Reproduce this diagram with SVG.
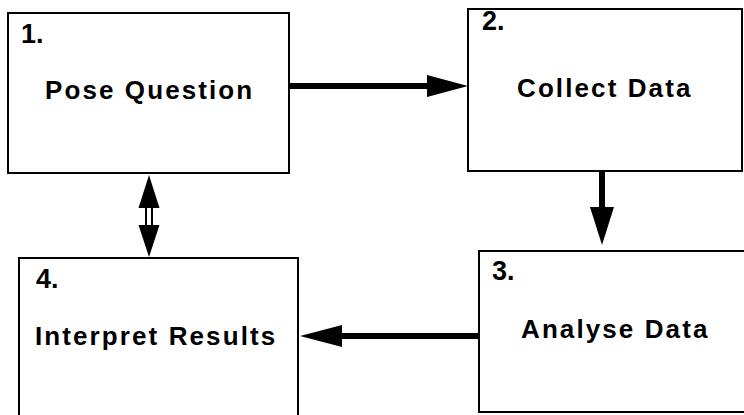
<svg xmlns="http://www.w3.org/2000/svg" width="744" height="415" viewBox="0 0 744 415">
<style>
.box{fill:#fff;stroke:#000;stroke-width:2}
.num{font-family:"Liberation Sans",Arial,sans-serif;font-weight:bold;font-size:27px;fill:#000}
.lbl{font-family:"Liberation Sans",Arial,sans-serif;font-weight:bold;font-size:26px;fill:#000;letter-spacing:2.1px}
.shaft{stroke:#000;stroke-width:6;fill:none}
.head{fill:#000;stroke:none}
</style>
<rect width="744" height="415" fill="#fff"/>
<g id="connectors">
<line class="shaft" x1="290" y1="86" x2="430" y2="86"/>
<polygon class="head" points="427,75 468,86 427,97"/>
<line class="shaft" x1="602" y1="172" x2="602" y2="210"/>
<polygon class="head" points="590,207 614,207 602,245"/>
<line class="shaft" x1="478" y1="336" x2="340" y2="336"/>
<polygon class="head" points="342,325 342,347 300,336"/>
<rect x="146" y="206" width="6" height="21" fill="#fff" stroke="#000" stroke-width="2"/>
<polygon class="head" points="149,175 159.5,208 138.5,208"/>
<polygon class="head" points="138.5,225 159.5,225 149,257"/>
</g>
<g id="node1">
<rect class="box" x="8" y="13" width="281" height="160"/>
<text class="num" x="21" y="43">1.</text>
<text class="lbl" x="45" y="99">Pose Question</text>
</g>
<g id="node2">
<rect class="box" x="468" y="9" width="274" height="162"/>
<text class="num" x="482" y="30">2.</text>
<text class="lbl" x="517" y="97">Collect Data</text>
</g>
<g id="node3">
<rect class="box" x="479" y="251" width="270" height="161"/>
<text class="num" x="492" y="280">3.</text>
<text class="lbl" x="521" y="338">Analyse Data</text>
</g>
<g id="node4">
<rect class="box" x="19" y="258" width="279" height="170"/>
<text class="num" x="36" y="288">4.</text>
<text class="lbl" x="35" y="345">Interpret Results</text>
</g>
</svg>
